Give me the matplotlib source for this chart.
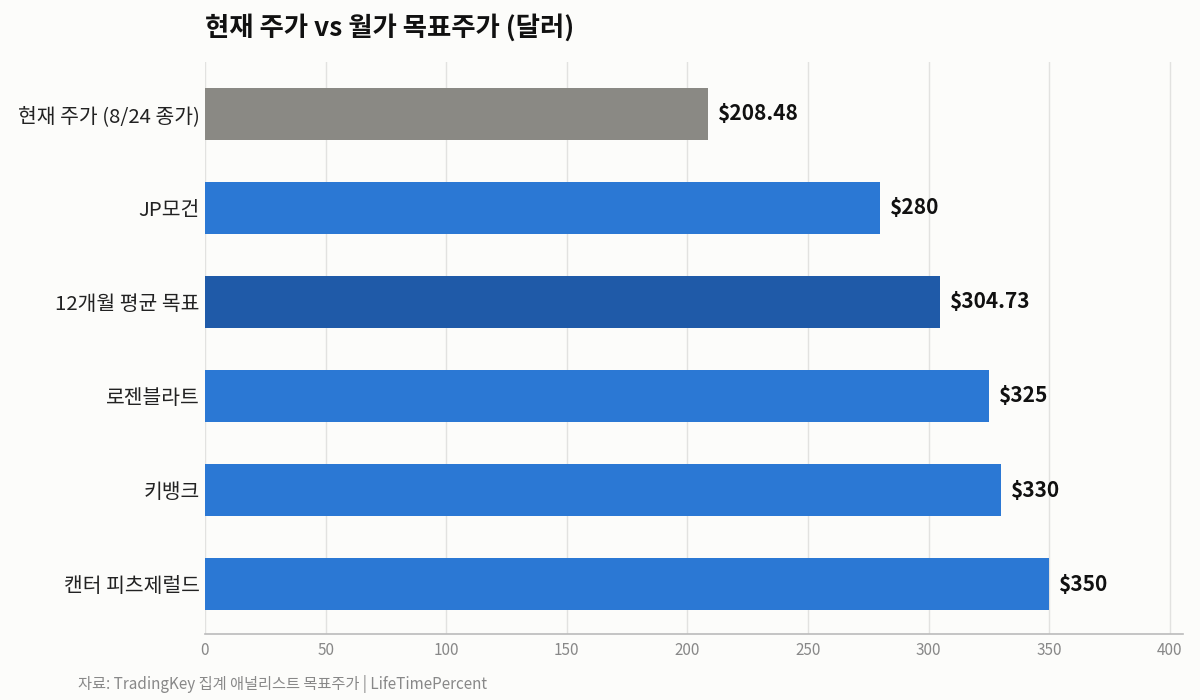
import matplotlib

matplotlib.use("Agg")
import matplotlib.pyplot as plt

plt.rcParams["font.family"] = ["Noto Sans CJK KR", "DejaVu Sans"]

# ==================== Data ====================
LABELS = [
    "현재 주가 (8/24 종가)",
    "JP모건",
    "12개월 평균 목표",
    "로젠블라트",
    "키뱅크",
    "캔터 피츠제럴드",
]
VALUES = [208.48, 280, 304.73, 325, 330, 350]
VALUE_TEXT = ["$208.48", "$280", "$304.73", "$325", "$330", "$350"]
COLORS = ["#8a8984", "#2b78d4", "#1f5aa8", "#2b78d4", "#2b78d4", "#2b78d4"]
X_TICKS = [0, 50, 100, 150, 200, 250, 300, 350, 400]
# ===============================================

BG = "#fcfcfa"


def main():
    fig = plt.figure(figsize=(12, 7), dpi=100, facecolor=BG)
    ax = fig.add_axes([0.1708, 0.0943, 0.815, 0.8171], facecolor=BG)

    ypos = list(range(len(LABELS)))
    ax.barh(ypos, VALUES, height=0.55, color=COLORS, zorder=3)
    for y, v, txt in zip(ypos, VALUES, VALUE_TEXT):
        ax.text(v + 4, y, txt, va="center", ha="left", fontsize=15,
                fontweight="bold", color="#111111", zorder=4)

    ax.set_yticks(ypos)
    ax.set_yticklabels(LABELS, fontsize=14.7, color="#222222")
    ax.set_ylim(len(LABELS) - 0.47, -0.55)
    ax.set_xlim(0, 405.4)
    ax.set_xticks(X_TICKS)
    ax.set_xticklabels([str(t) for t in X_TICKS], fontsize=11, color="#888888")

    ax.grid(axis="x", color="#e2e2e0", linewidth=1, zorder=0)
    ax.grid(axis="y", visible=False)
    for side in ["left", "right", "top"]:
        ax.spines[side].set_visible(False)
    ax.spines["bottom"].set_color("#bbbbbb")
    ax.spines["bottom"].set_linewidth(1.2)
    ax.tick_params(axis="both", length=0)
    ax.tick_params(axis="x", pad=6)
    ax.tick_params(axis="y", pad=4)

    fig.text(0.1708, 0.96, "현재 주가 vs 월가 목표주가 (달러)", fontsize=19,
             fontweight="bold", color="#111111", ha="left", va="center")
    fig.text(0.065, 0.023, "자료: TradingKey 집계 애널리스트 목표주가 | LifeTimePercent",
             fontsize=11, color="#888888", ha="left", va="center")

    fig.savefig("out.png", dpi=100, facecolor=BG)
    plt.close(fig)


if __name__ == "__main__":
    main()
